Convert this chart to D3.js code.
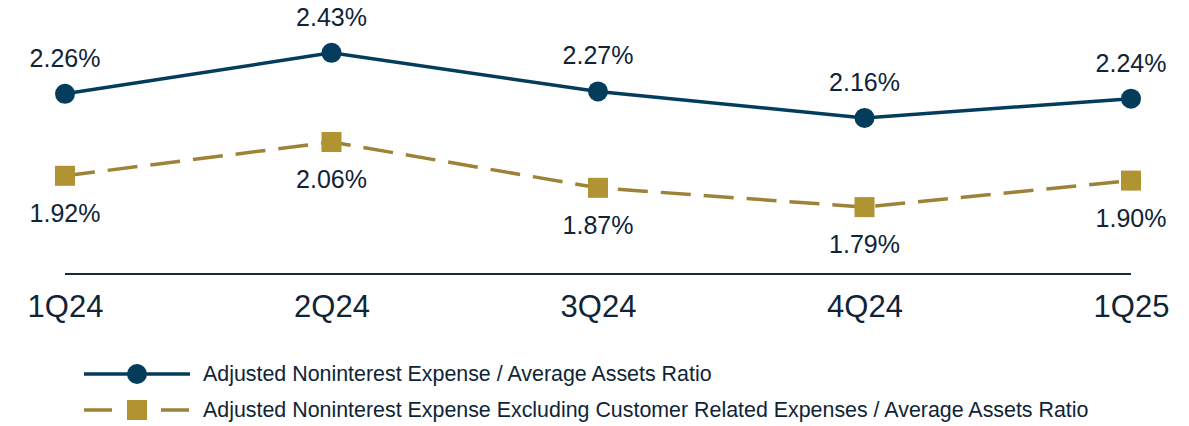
<!DOCTYPE html>
<html>
<head>
<meta charset="utf-8">
<script src="https://cdn.jsdelivr.net/npm/d3@7"></script>
<style>
  body { margin: 0; background: #fff; }
  svg { display: block; font-family: "Liberation Sans", Arial, sans-serif; }
</style>
</head>
<body>
<script>
// data
var kwartalen = ["1Q24", "2Q24", "3Q24", "4Q24", "1Q25"];
var kostenRatio = [2.26, 2.43, 2.27, 2.16, 2.24];
var kostenExclKlant = [1.92, 2.06, 1.87, 1.79, 1.90];
var legendaTeksten = [
  "Adjusted Noninterest Expense / Average Assets Ratio",
  "Adjusted Noninterest Expense Excluding Customer Related Expenses / Average Assets Ratio"
];

var breedte = 1189, hoogte = 426;
var navy = "#033d5b", goud = "#b09432", goudLijn = "#9c8338", tekstKleur = "#0f2437";

var svg = d3.select("body").append("svg")
    .attr("width", breedte)
    .attr("height", hoogte);

// schalen
var x = d3.scalePoint()
    .domain(kwartalen)
    .range([65, 1131]);

var y = d3.scaleLinear()
    .domain([1.5, 2.5])
    .range([277, 36]);

// x-as
var asX = d3.axisBottom(x).tickSize(0).tickPadding(21);
var asGroep = svg.append("g")
    .attr("transform", "translate(0,274)")
    .call(asX);
asGroep.select(".domain")
    .attr("d", "M65,0H1131")
    .attr("stroke", "#1b2a38")
    .attr("stroke-width", 2);
asGroep.selectAll("text")
    .attr("font-size", "31px")
    .attr("font-family", "Liberation Sans, Arial, sans-serif")
    .attr("fill", tekstKleur);

var lijn = d3.line()
    .x(function(d, i) { return x(kwartalen[i]); })
    .y(function(d) { return y(d); });

// gestreepte lijn
svg.append("path")
    .datum(kostenExclKlant)
    .attr("d", lijn)
    .attr("fill", "none")
    .attr("stroke", goudLijn)
    .attr("stroke-width", 3.5)
    .attr("stroke-dasharray", "30,13");

// doorgetrokken lijn
svg.append("path")
    .datum(kostenRatio)
    .attr("d", lijn)
    .attr("fill", "none")
    .attr("stroke", navy)
    .attr("stroke-width", 3.5);

// cirkels
svg.selectAll(".cirkel")
    .data(kostenRatio)
    .enter().append("circle")
    .attr("cx", function(d, i) { return x(kwartalen[i]); })
    .attr("cy", function(d) { return y(d); })
    .attr("r", 10)
    .attr("fill", navy);

// vierkantjes
svg.selectAll(".vierkant")
    .data(kostenExclKlant)
    .enter().append("rect")
    .attr("x", function(d, i) { return x(kwartalen[i]) - 10; })
    .attr("y", function(d) { return y(d) - 10; })
    .attr("width", 20)
    .attr("height", 20)
    .attr("fill", goud);

// labels
svg.selectAll(".labelBoven")
    .data(kostenRatio)
    .enter().append("text")
    .attr("x", function(d, i) { return x(kwartalen[i]); })
    .attr("y", function(d) { return y(d) - 27; })
    .attr("text-anchor", "middle")
    .attr("font-size", "25px")
    .attr("fill", tekstKleur)
    .text(function(d) { return d.toFixed(2) + "%"; });

svg.selectAll(".labelOnder")
    .data(kostenExclKlant)
    .enter().append("text")
    .attr("x", function(d, i) { return x(kwartalen[i]); })
    .attr("y", function(d) { return y(d) + 46; })
    .attr("text-anchor", "middle")
    .attr("font-size", "25px")
    .attr("fill", tekstKleur)
    .text(function(d) { return d.toFixed(2) + "%"; });

// legenda
var legenda = svg.append("g");
legenda.append("line")
    .attr("x1", 84).attr("x2", 190).attr("y1", 374).attr("y2", 374)
    .attr("stroke", navy).attr("stroke-width", 3.5);
legenda.append("circle")
    .attr("cx", 137).attr("cy", 374).attr("r", 10).attr("fill", navy);
legenda.append("line")
    .attr("x1", 84).attr("x2", 190).attr("y1", 410).attr("y2", 410)
    .attr("stroke", goudLijn).attr("stroke-width", 3.5)
    .attr("stroke-dasharray", "28,49");
legenda.append("rect")
    .attr("x", 127).attr("y", 400).attr("width", 20).attr("height", 20)
    .attr("fill", goud);

legenda.selectAll("text")
    .data(legendaTeksten)
    .enter().append("text")
    .attr("x", 203)
    .attr("y", function(d, i) { return 374 + i * 36; })
    .attr("dy", "0.35em")
    .attr("font-size", "21.4px")
    .attr("fill", tekstKleur)
    .text(function(d) { return d; });
</script>
</body>
</html>
